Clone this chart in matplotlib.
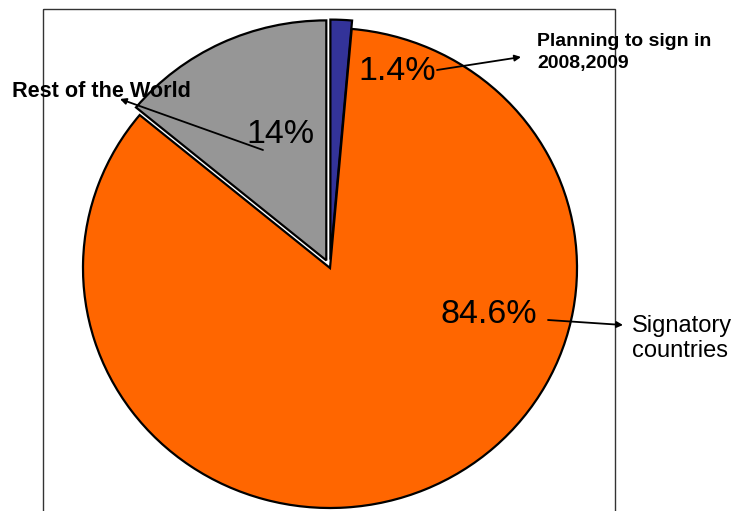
import matplotlib.pyplot as plt
from matplotlib.patches import Rectangle

plt.rcParams['font.family'] = ['Liberation Sans', 'DejaVu Sans']

# slice data, clockwise from 12 o'clock
names = ['Planning to sign in\n2008,2009', 'Signatory\ncountries', 'Rest of the World']
shares = [1.4, 84.6, 14]
colors = ['#333399', '#FF6600', '#969696']
explode = [0.035, 0, 0.035]

W, H = 736, 511
cx, cy, rx, ry = 330, 268, 247, 240

fig = plt.figure(figsize=(W / 100, H / 100), dpi=100)

# pie axes: unit radius maps to rx/ry pixels around (cx, cy)
ax = fig.add_axes([0, 0, 1, 1])
ax.pie(shares, colors=colors, explode=explode, startangle=90, counterclock=False,
       wedgeprops=dict(edgecolor='black', linewidth=1.6))
ax.set_aspect('auto')
ax.set_xlim(-cx / rx, (W - cx) / rx)
ax.set_ylim(-(H - cy) / ry, cy / ry)
ax.axis('off')

# overlay in pixel coordinates for frame, labels and arrows
ov = fig.add_axes([0, 0, 1, 1])
ov.set_xlim(0, W)
ov.set_ylim(H, 0)
ov.axis('off')
ov.add_patch(Rectangle((43, 9), 572, 530, fill=False, edgecolor='#333333', lw=1))

pct_pos = [(358, 80), (440, 323), (246, 143)]
for v, (x, y) in zip(shares, pct_pos):
    ov.text(x, y, f'{v:g}%', fontsize=24.5, ha='left', va='baseline')

# baseline given for the last line of each label
ov.text(537, 68, names[0], fontsize=14, fontweight='bold', ha='left', va='baseline',
        linespacing=1.35)
ov.text(632, 357, names[1], fontsize=17, ha='left', va='baseline', linespacing=1.2)
ov.text(12, 97, names[2], fontsize=15.6, fontweight='bold', ha='left', va='baseline')

arrows = [((437, 70), (521, 57)), ((548, 320), (623, 325)), ((263, 150), (120, 99))]
for start, tip in arrows:
    ov.annotate('', xy=tip, xytext=start,
                arrowprops=dict(arrowstyle='-|>', color='black', lw=1.3,
                                mutation_scale=9, shrinkA=0, shrinkB=0))

fig.savefig('out.png', dpi=100)
